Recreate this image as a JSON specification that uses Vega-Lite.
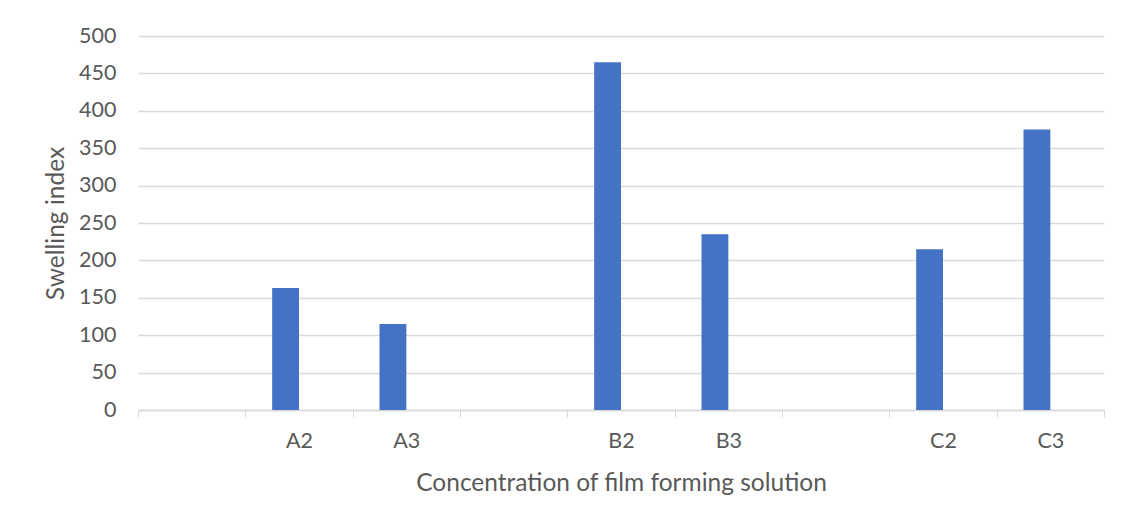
{
  "$schema": "https://vega.github.io/schema/vega-lite/v6.json",
  "width": 966,
  "height": 374,
  "autosize": {"type": "none"},
  "padding": {"left": 138, "top": 36, "right": 22, "bottom": 116},
  "background": "white",
  "data": {
    "values": [
      {"sample": "A2", "series": "Swelling index", "value": 163},
      {"sample": "A3", "series": "Swelling index", "value": 115},
      {"sample": "B2", "series": "Swelling index", "value": 465},
      {"sample": "B3", "series": "Swelling index", "value": 235},
      {"sample": "C2", "series": "Swelling index", "value": 215},
      {"sample": "C3", "series": "Swelling index", "value": 375}
    ]
  },
  "mark": {"type": "bar", "color": "#4472C4"},
  "encoding": {
    "x": {
      "field": "sample",
      "type": "nominal",
      "scale": {
        "domain": [" ", "A2", "A3", "  ", "B2", "B3", "   ", "C2", "C3"],
        "paddingInner": 0,
        "paddingOuter": 0
      },
      "axis": {
        "title": "Concentration of film forming solution",
        "labelAngle": 0,
        "tickBand": "extent",
        "domainColor": "#d9d9d9",
        "tickColor": "#d9d9d9",
        "tickSize": 7,
        "labelPadding": 13,
        "titlePadding": 20
      }
    },
    "xOffset": {
      "field": "series",
      "type": "nominal",
      "scale": {
        "domain": ["Swelling index", "Series 2"],
        "paddingInner": 0,
        "paddingOuter": 1.15
      }
    },
    "y": {
      "field": "value",
      "type": "quantitative",
      "scale": {"domain": [0, 500], "nice": false},
      "axis": {
        "title": "Swelling index",
        "values": [0, 50, 100, 150, 200, 250, 300, 350, 400, 450, 500],
        "domain": false,
        "ticks": false,
        "labelPadding": 22,
        "titlePadding": 10,
        "gridColor": "#d9d9d9"
      }
    }
  },
  "config": {
    "view": {"stroke": null},
    "axis": {
      "labelFont": "Lato",
      "titleFont": "Lato",
      "labelFontSize": 21.5,
      "titleFontSize": 24.5,
      "labelColor": "#595959",
      "titleColor": "#595959",
      "titleFontWeight": "normal",
      "gridWidth": 1.5,
      "domainWidth": 1.5
    }
  }
}
